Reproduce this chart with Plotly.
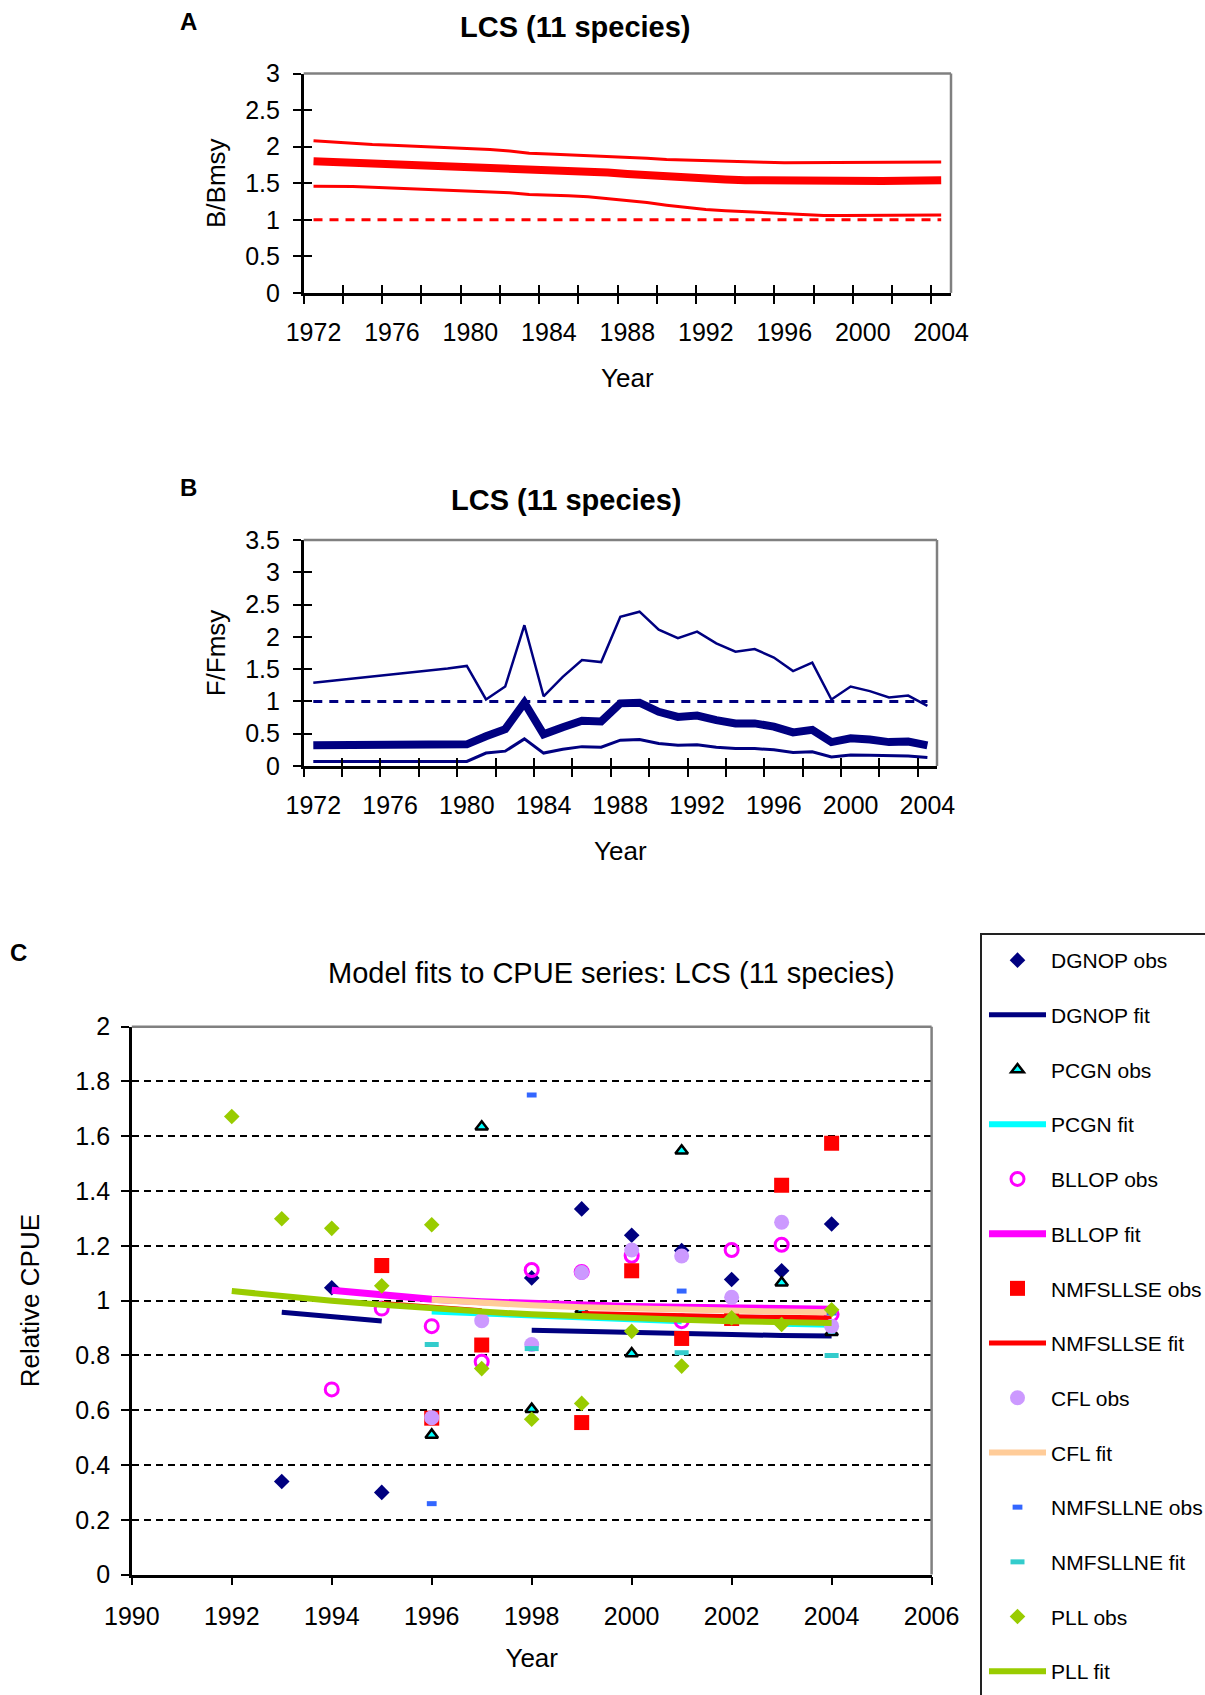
import plotly.graph_objects as go

W, H = 1205, 1695
FONT = "Liberation Sans, Arial, sans-serif"

# ---------------- Panel A / B data (1972-2004) ----------------
years_bf = list(range(1972, 2005))
b_upper = [2.08, 2.06, 2.04, 2.03, 2.02, 2.01, 2.00, 1.99, 1.98, 1.96, 1.94, 1.91, 1.90, 1.89, 1.88, 1.87,
           1.855, 1.84, 1.825, 1.815, 1.805, 1.80, 1.79, 1.785, 1.78, 1.78, 1.78, 1.78, 1.78, 1.785, 1.79, 1.79, 1.79]
b_median = [1.80, 1.79, 1.78, 1.77, 1.765, 1.76, 1.75, 1.745, 1.74, 1.73, 1.72, 1.69, 1.68, 1.67, 1.66, 1.645,
            1.625, 1.605, 1.585, 1.57, 1.56, 1.55, 1.54, 1.535, 1.53, 1.525, 1.52, 1.52, 1.525, 1.53, 1.535, 1.54, 1.54]
b_lower = [1.46, 1.46, 1.455, 1.445, 1.435, 1.42, 1.41, 1.40, 1.385, 1.38, 1.37, 1.345, 1.34, 1.33, 1.315, 1.29,
           1.265, 1.235, 1.20, 1.165, 1.14, 1.125, 1.11, 1.095, 1.08, 1.07, 1.06, 1.06, 1.06, 1.06, 1.06, 1.062, 1.065]
b_ref = [1.0] * 33

f_upper = [1.29, 1.32, 1.35, 1.38, 1.41, 1.44, 1.48, 1.51, 1.55, 1.03, 1.23, 2.18, 1.08, 1.38, 1.64, 1.61,
           2.31, 2.39, 2.11, 1.98, 2.08, 1.90, 1.77, 1.81, 1.68, 1.47, 1.60, 1.03, 1.23, 1.16, 1.06, 1.09, 0.93]
f_median = [0.32, 0.32, 0.325, 0.325, 0.33, 0.33, 0.335, 0.335, 0.335, 0.46, 0.57, 0.98, 0.49, 0.60, 0.70, 0.69,
            0.97, 0.98, 0.84, 0.76, 0.78, 0.71, 0.66, 0.66, 0.61, 0.52, 0.56, 0.37, 0.43, 0.41, 0.37, 0.38, 0.32]
f_lower = [0.07, 0.07, 0.07, 0.07, 0.07, 0.07, 0.07, 0.07, 0.07, 0.20, 0.23, 0.42, 0.20, 0.26, 0.30, 0.29,
           0.40, 0.41, 0.35, 0.32, 0.33, 0.29, 0.27, 0.27, 0.25, 0.21, 0.22, 0.14, 0.17, 0.165, 0.155, 0.155, 0.13]
f_ref = [1.0] * 33

ab_label_years = [1972, 1976, 1980, 1984, 1988, 1992, 1996, 2000, 2004]
ab_tick_pos = [1971.5 + 2 * k for k in range(17)]
a_yticks = [0, 0.5, 1, 1.5, 2, 2.5, 3]
a_ytext = ["0", "0.5", "1", "1.5", "2", "2.5", "3"]
b_yticks = [0, 0.5, 1, 1.5, 2, 2.5, 3, 3.5]
b_ytext = ["0", "0.5", "1", "1.5", "2", "2.5", "3", "3.5"]

# ---------------- Panel C data (1992-2004) ----------------
cpue_years = list(range(1992, 2005))
dgnop_obs = [None, 0.34, 1.047, 0.30, None, None, 1.083, 1.335, 1.239, 1.183, 1.077, 1.109, 1.28]
dgnop_fit = [None, 0.958, 0.943, 0.926, None, None, 0.892, 0.887, 0.883, 0.879, 0.876, 0.873, 0.871]
pcgn_obs = [None, None, None, None, 0.51, 1.635, 0.604, 0.967, 0.807, 1.547, None, 1.065, 0.885]
pcgn_fit = [None, None, None, None, 0.96, 0.952, 0.944, 0.937, 0.930, 0.925, None, 0.916, 0.912]
bllop_obs = [None, None, 0.676, 0.971, 0.907, 0.777, 1.112, 1.105, 1.164, 0.925, 1.185, 1.204, 0.95]
bllop_fit = [None, None, 1.038, 1.02, 1.005, 0.996, 0.989, 0.984, 0.979, 0.976, 0.973, 0.971, 0.969]
nmfsllse_obs = [None, None, None, 1.128, 0.571, 0.838, None, 0.555, 1.109, 0.862, 0.935, 1.421, 1.575]
nmfsllse_fit = [None, None, None, 0.99, 0.975, 0.963, None, 0.953, 0.948, 0.944, 0.941, 0.939, 0.937]
cfl_obs = [None, None, None, None, 0.573, 0.927, 0.84, 1.103, 1.185, 1.163, 1.012, 1.286, 0.907]
cfl_fit = [None, None, None, None, 1.003, 0.992, 0.983, 0.976, 0.971, 0.967, 0.963, 0.960, 0.958]
nmfsllne_obs = [None, None, None, None, 0.259, None, 1.751, None, None, 1.035, None, None, 0.955]
nmfsllne_fit = [None, None, None, None, 0.84, None, 0.825, None, None, 0.81, None, None, 0.80]
pll_obs = [1.672, 1.299, 1.264, 1.054, 1.277, 0.752, 0.567, 0.625, 0.888, 0.761, 0.937, 0.913, 0.967]
pll_fit = [1.035, 1.016, 1.0, 0.985, 0.971, 0.96, 0.95, 0.942, 0.935, 0.93, 0.925, 0.921, 0.918]

c_xticks = [1990, 1992, 1994, 1996, 1998, 2000, 2002, 2004, 2006]
c_yticks = [0, 0.2, 0.4, 0.6, 0.8, 1.0, 1.2, 1.4, 1.6, 1.8, 2.0]
c_ytext = ["0", "0.2", "0.4", "0.6", "0.8", "1", "1.2", "1.4", "1.6", "1.8", "2"]

RED = "#FF0000"
NAVY = "#000080"
GRAY = "#808080"


def px_x(p):
    return p / W


def px_y(p):
    return 1 - p / H


fig = go.Figure()

# ---- Panel A traces ----
for vals, w in [(b_upper, 3), (b_median, 8), (b_lower, 3)]:
    fig.add_trace(go.Scatter(x=years_bf, y=vals, mode="lines", line=dict(color=RED, width=w),
                             showlegend=False, hoverinfo="skip", xaxis="x", yaxis="y"))
fig.add_trace(go.Scatter(x=years_bf, y=b_ref, mode="lines", line=dict(color=RED, width=3, dash="9px,7px"),
                         showlegend=False, hoverinfo="skip", xaxis="x", yaxis="y"))

# ---- Panel B traces ----
for vals, w in [(f_upper, 2.5), (f_median, 8), (f_lower, 3)]:
    fig.add_trace(go.Scatter(x=years_bf, y=vals, mode="lines", line=dict(color=NAVY, width=w),
                             showlegend=False, hoverinfo="skip", xaxis="x2", yaxis="y2"))
fig.add_trace(go.Scatter(x=years_bf, y=f_ref, mode="lines", line=dict(color=NAVY, width=3, dash="9px,7px"),
                         showlegend=False, hoverinfo="skip", xaxis="x2", yaxis="y2"))

# ---- dummy traces so the tick overlay axes are drawn ----
for xa, ya in [("x4", "y"), ("x", "y4"), ("x5", "y2"), ("x2", "y5")]:
    fig.add_trace(go.Scatter(x=[1980], y=[-10], mode="markers", marker=dict(opacity=0),
                             showlegend=False, hoverinfo="skip", xaxis=xa, yaxis=ya))

# ---- Panel C traces ----
c_series = [
    ("DGNOP obs", dgnop_obs, dict(mode="markers", marker=dict(symbol="diamond", size=12, color=NAVY))),
    ("DGNOP fit", dgnop_fit, dict(mode="lines", line=dict(color=NAVY, width=5))),
    ("PCGN obs", pcgn_obs, dict(mode="markers", marker=dict(symbol="triangle-up", size=11, color="#00FFFF",
                                                            line=dict(color="black", width=2.5)))),
    ("PCGN fit", pcgn_fit, dict(mode="lines", line=dict(color="#00FFFF", width=6))),
    ("BLLOP obs", bllop_obs, dict(mode="markers", marker=dict(symbol="circle-open", size=13, color="#FF00FF",
                                                              line=dict(color="#FF00FF", width=3)))),
    ("BLLOP fit", bllop_fit, dict(mode="lines", line=dict(color="#FF00FF", width=7))),
    ("NMFSLLSE obs", nmfsllse_obs, dict(mode="markers", marker=dict(symbol="square", size=15, color=RED))),
    ("NMFSLLSE fit", nmfsllse_fit, dict(mode="lines", line=dict(color=RED, width=5))),
    ("CFL obs", cfl_obs, dict(mode="markers", marker=dict(symbol="circle", size=15, color="#CC99FF"))),
    ("CFL fit", cfl_fit, dict(mode="lines", line=dict(color="#FFCC99", width=6))),
    ("NMFSLLNE obs", nmfsllne_obs, dict(mode="markers", marker=dict(symbol="line-ew", size=7, color="#3366FF",
                                                                    line=dict(color="#3366FF", width=5)))),
    ("NMFSLLNE fit", nmfsllne_fit, dict(mode="markers", marker=dict(symbol="line-ew", size=10, color="#33CCCC",
                                                                    line=dict(color="#33CCCC", width=5)))),
    ("PLL obs", pll_obs, dict(mode="markers", marker=dict(symbol="diamond", size=12, color="#99CC00"))),
    ("PLL fit", pll_fit, dict(mode="lines", line=dict(color="#99CC00", width=6))),
]
for i, (name, vals, style) in enumerate(c_series):
    fig.add_trace(go.Scatter(x=cpue_years, y=vals, name=name, legendgroup="g%d" % i,
                             connectgaps=False, hoverinfo="skip", xaxis="x3", yaxis="y3", **style))

tick_font = dict(family=FONT, size=25, color="black")
title_font = dict(family=FONT, size=26, color="black")

dom_ax = [px_x(303.7), px_x(951)]
dom_ay = [px_y(292.9), px_y(73.5)]
dom_bx = [px_x(303.7), px_x(937)]
dom_by = [px_y(766), px_y(540)]
dom_cx = [px_x(131.8), px_x(931.6)]
dom_cy = [px_y(1574.6), px_y(1026.7)]


def main_x(domain, anchor):
    return dict(domain=domain, anchor=anchor, range=[1971.5, 2004.5], tickmode="array",
                tickvals=ab_label_years, ticktext=[str(v) for v in ab_label_years], ticks="",
                showline=True, linecolor="black", linewidth=2.5, showgrid=False, zeroline=False,
                tickfont=tick_font, ticklabelstandoff=15, fixedrange=True, automargin=False,
                title=dict(text="Year", font=title_font, standoff=25),
                minor=dict(tickmode="array", tickvals=ab_tick_pos, ticks="outside", ticklen=8,
                           tickwidth=2, tickcolor="black", showgrid=False))


def main_y(domain, anchor, rng, tv, tt, title):
    return dict(domain=domain, anchor=anchor, range=rng, tickmode="array", tickvals=tv, ticktext=tt,
                ticks="outside", ticklen=8, tickwidth=2, tickcolor="black", showline=True,
                linecolor="black", linewidth=2.5, showgrid=False, zeroline=False, tickfont=tick_font,
                ticklabelstandoff=8, fixedrange=True, automargin=False,
                title=dict(text=title, font=title_font, standoff=13))


def over_x(over, anchor):
    return dict(overlaying=over, anchor=anchor, side="bottom", range=[1971.5, 2004.5], tickmode="array",
                tickvals=ab_tick_pos, ticks="inside", ticklen=8, tickwidth=2, tickcolor="black",
                showticklabels=False, showline=False, showgrid=False, zeroline=False, fixedrange=True,
                automargin=False)


def over_y(over, anchor, rng, tv):
    return dict(overlaying=over, anchor=anchor, side="left", range=rng, tickmode="array", tickvals=tv,
                ticks="inside", ticklen=8, tickwidth=2, tickcolor="black", showticklabels=False,
                showline=False, showgrid=False, zeroline=False, fixedrange=True, automargin=False)


shapes = []
for xd, yd in [("x domain", "y domain"), ("x2 domain", "y2 domain"), ("x3 domain", "y3 domain")]:
    shapes.append(dict(type="line", xref=xd, yref=yd, x0=0, x1=1, y0=1, y1=1,
                       line=dict(color=GRAY, width=2.5), layer="above"))
    shapes.append(dict(type="line", xref=xd, yref=yd, x0=1, x1=1, y0=0, y1=1,
                       line=dict(color=GRAY, width=2.5), layer="above"))
# legend frame
shapes.append(dict(type="rect", xref="paper", yref="paper", x0=px_x(981), x1=1.02, y0=-0.02, y1=px_y(934),
                   line=dict(color="#222222", width=2), fillcolor="rgba(0,0,0,0)", layer="above"))

annotations = [
    dict(text="<b>LCS (11 species)</b>", x=px_x(575), y=px_y(27), xref="paper", yref="paper",
         showarrow=False, xanchor="center", yanchor="middle", font=dict(family=FONT, size=29, color="black")),
    dict(text="<b>A</b>", x=px_x(188), y=px_y(21), xref="paper", yref="paper",
         showarrow=False, xanchor="center", yanchor="middle", font=dict(family=FONT, size=24, color="black")),
    dict(text="<b>LCS (11 species)</b>", x=px_x(566), y=px_y(500), xref="paper", yref="paper",
         showarrow=False, xanchor="center", yanchor="middle", font=dict(family=FONT, size=29, color="black")),
    dict(text="<b>B</b>", x=px_x(188), y=px_y(487), xref="paper", yref="paper",
         showarrow=False, xanchor="center", yanchor="middle", font=dict(family=FONT, size=24, color="black")),
    dict(text="Model fits to CPUE series: LCS (11 species)", x=px_x(611), y=px_y(973), xref="paper",
         yref="paper", showarrow=False, xanchor="center", yanchor="middle",
         font=dict(family=FONT, size=29, color="black")),
    dict(text="<b>C</b>", x=px_x(18.5), y=px_y(952), xref="paper", yref="paper",
         showarrow=False, xanchor="center", yanchor="middle", font=dict(family=FONT, size=24, color="black")),
]

fig.update_layout(
    width=W, height=H, margin=dict(l=0, r=0, t=0, b=0, pad=0, autoexpand=False),
    paper_bgcolor="white", plot_bgcolor="white", font=dict(family=FONT, color="black"),
    xaxis=main_x(dom_ax, "y"),
    yaxis=main_y(dom_ay, "x", [0, 3], a_yticks, a_ytext, "B/Bmsy"),
    xaxis2=main_x(dom_bx, "y2"),
    yaxis2=main_y(dom_by, "x2", [0, 3.5], b_yticks, b_ytext, "F/Fmsy"),
    xaxis4=over_x("x", "y"),
    yaxis4=over_y("y", "x", [0, 3], a_yticks),
    xaxis5=over_x("x2", "y2"),
    yaxis5=over_y("y2", "x2", [0, 3.5], b_yticks),
    xaxis3=dict(domain=dom_cx, anchor="y3", range=[1990, 2006], tickmode="array", tickvals=c_xticks,
                ticktext=[str(v) for v in c_xticks], ticks="outside", ticklen=8, tickwidth=2,
                tickcolor="black", showline=True, linecolor="black", linewidth=2.5, showgrid=False,
                zeroline=False, tickfont=tick_font, ticklabelstandoff=10, fixedrange=True, automargin=False,
                title=dict(text="Year", font=title_font, standoff=20)),
    yaxis3=dict(domain=dom_cy, anchor="x3", range=[0, 2], tickmode="array", tickvals=c_yticks,
                ticktext=c_ytext, ticks="outside", ticklen=8, tickwidth=2, tickcolor="black",
                showline=True, linecolor="black", linewidth=2.5, showgrid=True, gridcolor="black",
                gridwidth=1.5, griddash="7px,5px", zeroline=False, tickfont=tick_font,
                ticklabelstandoff=6, fixedrange=True, automargin=False,
                title=dict(text="Relative CPUE", font=title_font, standoff=29)),
    showlegend=True,
    legend=dict(x=px_x(984), xanchor="left", y=px_y(940), yanchor="top", traceorder="grouped",
                tracegroupgap=24.4, itemwidth=57, font=dict(family=FONT, size=21, color="black"),
                bgcolor="rgba(0,0,0,0)", borderwidth=0, itemclick=False, itemdoubleclick=False),
    shapes=shapes,
    annotations=annotations,
)

fig.write_html("out.html")
